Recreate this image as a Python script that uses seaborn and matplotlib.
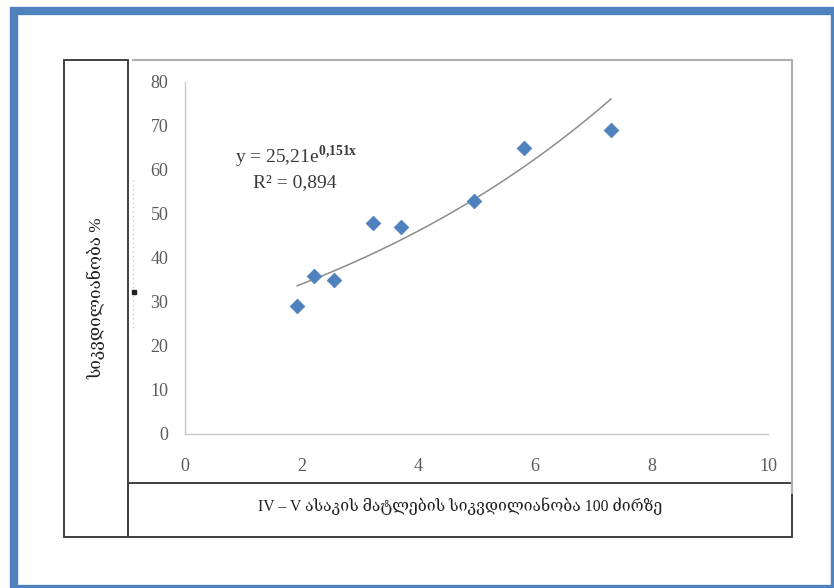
"""
exponential trend of larva mortality vs. plant mortality
"""

import numpy as np
import pandas as pd
import seaborn as sns
import matplotlib.pyplot as plt
from matplotlib.lines import Line2D
from matplotlib.patches import Rectangle

# data
larva_mortality = [1.92, 2.21, 2.56, 3.22, 3.70, 4.96, 5.81, 7.31]
plant_mortality = [29, 36, 35, 48, 47, 53, 65, 69]
x_ticks = [0, 2, 4, 6, 8, 10]
y_ticks = [0, 10, 20, 30, 40, 50, 60, 70, 80]

eq_label = r'y = 25,21e$^{\mathbf{0{,}151x}}$'
r2_label = 'R² = 0,894'
x_label = 'IV – V ასაკის მატლების სიკვდილიანობა 100 ძირზე'
y_label = 'სიკვდილიანობა %'

sns.set_style('white')
plt.rcParams['font.family'] = ['Liberation Serif', 'DejaVu Serif', 'DejaVu Sans']
plt.rcParams['mathtext.fontset'] = 'custom'
plt.rcParams['mathtext.rm'] = 'Liberation Serif'
plt.rcParams['mathtext.bf'] = 'Liberation Serif:bold'

W, H = 834, 588
fig = plt.figure(figsize=(W / 100, H / 100), dpi=100)


def fx(px):
    return px / W


def fy(py):
    return 1 - py / H


df = pd.DataFrame({'x': larva_mortality, 'y': plant_mortality})

# main axes: x 0..10 -> px 185..768, y 0..80 -> px 434..82
ax = fig.add_axes([fx(185), fy(434), (768 - 185) / W, (434 - 82) / H])
ax.patch.set_alpha(0)

# exponential trend fitted on log(y), like the spreadsheet trendline
b, ln_a = np.polyfit(df.x, np.log(df.y), 1)
xs = np.linspace(df.x.min(), df.x.max(), 100)
trend = pd.DataFrame({'x': xs, 'y': np.exp(ln_a) * np.exp(b * xs)})
sns.lineplot(data=trend, x='x', y='y', ax=ax, color='#8c8c8c', linewidth=1.1)

sns.scatterplot(data=df, x='x', y='y', ax=ax, marker='D', s=55,
                color='#4F81BD', edgecolor='#4F81BD', zorder=3)

ax.set_xlim(0, 10)
ax.set_ylim(0, 80)
ax.set_xticks(x_ticks)
ax.set_yticks(y_ticks)
ax.set_xlabel('')
ax.set_ylabel('')
for s in ['top', 'right']:
    ax.spines[s].set_visible(False)
for s in ['left', 'bottom']:
    ax.spines[s].set_color('#c8c8c8')
    ax.spines[s].set_linewidth(1.0)
ax.tick_params(axis='both', direction='out', length=5, width=1.0,
               color='#c8c8c8', labelcolor='#5a5a5a', labelsize=13)
ax.tick_params(axis='y', pad=7)
ax.tick_params(axis='x', pad=12)

# equation and R² labels
fig.text(fx(296), fy(157), eq_label, ha='center', va='center',
         fontsize=14, color='#3a3a3a')
fig.text(fx(295), fy(183), r2_label, ha='center', va='center',
         fontsize=14, color='#3a3a3a')

# frames around the chart
frame_dark = '#404040'
fig.add_artist(Rectangle((fx(64), fy(537)), (128 - 64) / W, (537 - 60) / H,
                         transform=fig.transFigure, fill=False,
                         edgecolor=frame_dark, linewidth=1.4))
fig.add_artist(Rectangle((fx(128), fy(537)), (792 - 128) / W, (537 - 483) / H,
                         transform=fig.transFigure, fill=False,
                         edgecolor=frame_dark, linewidth=1.4))
fig.add_artist(Line2D([fx(133), fx(792), fx(792)], [fy(60), fy(60), fy(493)],
                      transform=fig.transFigure, color='#b0b0b0', linewidth=1.6))

# leftover dotted mark on the left of the axis
fig.add_artist(Line2D([fx(133), fx(133)], [fy(180), fy(330)],
                      transform=fig.transFigure, color='#b8b8b8',
                      linewidth=0.8, linestyle=(0, (1, 3))))
fig.add_artist(Line2D([fx(134)], [fy(292)], transform=fig.transFigure,
                      marker='s', markersize=2.5, color='#202020'))

# axis titles inside the boxes
fig.text(fx(96), fy(298), y_label, rotation=90, ha='center', va='center',
         fontsize=12.3, color='#202020')
fig.text(fx(460), fy(506), x_label, ha='center', va='center',
         fontsize=11.3, color='#202020')

# blue outer border
fig.add_artist(Rectangle((fx(13.5), fy(589)), (835 - 13.5) / W, (589 - 11) / H,
                         transform=fig.transFigure, fill=False,
                         edgecolor='#4F81BD', linewidth=6))

fig.savefig('out.png', dpi=100)
